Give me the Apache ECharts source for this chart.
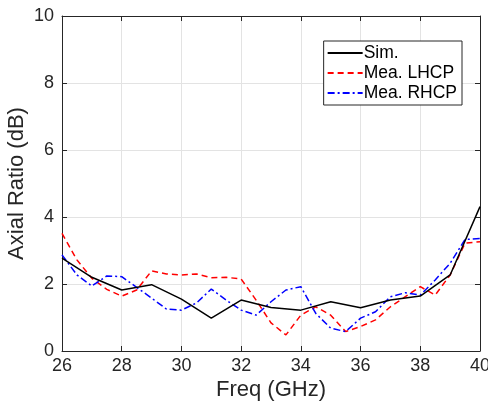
<!DOCTYPE html>
<html>
<head>
<meta charset="utf-8">
<script src="https://cdn.jsdelivr.net/npm/echarts@6/dist/echarts.min.js"></script>
<style>
  html, body { margin: 0; padding: 0; background: #fff; }
  #chart { width: 488px; height: 407px; }
</style>
</head>
<body>
<div id="chart"></div>
<script>
// simulated, 1 GHz step
const simFreq = [26, 27, 28, 29, 30, 31, 32, 33, 34, 35, 36, 37, 38, 39, 40];
const simAR = [2.77, 2.2, 1.82, 1.98, 1.55, 0.98, 1.52, 1.3, 1.22, 1.47, 1.29, 1.52, 1.64, 2.27, 4.31];

// measured, 0.5 GHz step
const meaFreq = [26, 26.5, 27, 27.5, 28, 28.5, 29, 29.5, 30, 30.5, 31, 31.5, 32, 32.5, 33, 33.5,
  34, 34.5, 35, 35.5, 36, 36.5, 37, 37.5, 38, 38.5, 39, 39.5, 40];
const lhcpAR = [3.51, 2.72, 2.17, 1.84, 1.64, 1.82, 2.39, 2.3, 2.27, 2.3, 2.19, 2.2, 2.15, 1.52, 0.84, 0.48,
  1.07, 1.32, 1.07, 0.58, 0.73, 0.93, 1.32, 1.62, 1.92, 1.67, 2.27, 3.22, 3.26];
const rhcpAR = [2.87, 2.27, 1.94, 2.24, 2.22, 1.9, 1.58, 1.25, 1.22, 1.43, 1.85, 1.52, 1.22, 1.07, 1.47, 1.82,
  1.92, 1.12, 0.68, 0.58, 0.98, 1.17, 1.62, 1.74, 1.67, 2.12, 2.62, 3.33, 3.36];

const xTicks = [26, 28, 30, 32, 34, 36, 38, 40];
const yTicks = [0, 2, 4, 6, 8, 10];

const pairs = (xs, ys) => xs.map((x, i) => [x, ys[i]]);

const axisColor = '#262626';
const font = 'Liberation Sans';

let chart = echarts.init(document.getElementById('chart'));

const baseX = {
  type: 'value',
  min: xTicks[0],
  max: xTicks[xTicks.length - 1],
  interval: 2,
  axisLine: { show: true, onZero: false, lineStyle: { color: axisColor, width: 1 } },
  axisTick: { show: true, inside: true, length: 5, lineStyle: { color: axisColor } },
};
const baseY = {
  type: 'value',
  min: yTicks[0],
  max: yTicks[yTicks.length - 1],
  interval: 2,
  axisLine: { show: true, onZero: false, lineStyle: { color: axisColor, width: 1 } },
  axisTick: { show: true, inside: true, length: 5, lineStyle: { color: axisColor } },
};

chart.setOption({
  animation: false,
  backgroundColor: '#fff',
  grid: { left: 62, right: 8, top: 16, bottom: 56, containLabel: false, outerBoundsMode: 'none' },
  legend: {
    orient: 'vertical',
    right: 26,
    top: 41,
    itemWidth: 35,
    itemHeight: 12,
    itemGap: 2,
    padding: [3, 5, 3, 3],
    backgroundColor: '#fff',
    borderColor: axisColor,
    borderWidth: 1,
    borderRadius: 0,
    itemStyle: { opacity: 0 },
    textStyle: { fontFamily: font, fontSize: 17.5, color: '#000', padding: [0, 0, 0, -4] },
    data: ['Sim.', 'Mea. LHCP', 'Mea. RHCP'],
  },
  xAxis: [
    Object.assign({}, baseX, {
      position: 'bottom',
      name: 'Freq (GHz)',
      nameLocation: 'middle',
      nameGap: 28,
      nameMoveOverlap: false,
      nameTextStyle: { fontFamily: font, fontSize: 22, color: axisColor },
      axisLabel: { fontFamily: font, fontSize: 18, color: axisColor, margin: 6 },
      splitLine: { show: true, lineStyle: { color: '#e3e3e3', width: 1 } },
    }),
    Object.assign({}, baseX, {
      position: 'top',
      axisLabel: { show: false },
      splitLine: { show: false },
    }),
  ],
  yAxis: [
    Object.assign({}, baseY, {
      position: 'left',
      name: 'Axial Ratio (dB)',
      nameLocation: 'middle',
      nameGap: 34,
      nameMoveOverlap: false,
      nameTextStyle: { fontFamily: font, fontSize: 22, color: axisColor },
      axisLabel: { fontFamily: font, fontSize: 18, color: axisColor, margin: 8 },
      splitLine: { show: true, lineStyle: { color: '#e3e3e3', width: 1 } },
    }),
    Object.assign({}, baseY, {
      position: 'right',
      axisLabel: { show: false },
      splitLine: { show: false },
    }),
  ],
  series: [
    {
      name: 'Sim.',
      type: 'line',
      data: pairs(simFreq, simAR),
      symbol: 'none',
      lineStyle: { color: '#000', width: 1.5, type: 'solid' },
      itemStyle: { color: '#000' },
      z: 3,
    },
    {
      name: 'Mea. LHCP',
      type: 'line',
      data: pairs(meaFreq, lhcpAR),
      symbol: 'none',
      lineStyle: { color: '#ff0000', width: 1.5, type: [6, 4] },
      itemStyle: { color: '#ff0000' },
      z: 2,
    },
    {
      name: 'Mea. RHCP',
      type: 'line',
      data: pairs(meaFreq, rhcpAR),
      symbol: 'none',
      lineStyle: { color: '#0000ff', width: 1.5, type: [7, 3, 2, 3] },
      itemStyle: { color: '#0000ff' },
      z: 2,
    },
  ],
});
</script>
</body>
</html>
